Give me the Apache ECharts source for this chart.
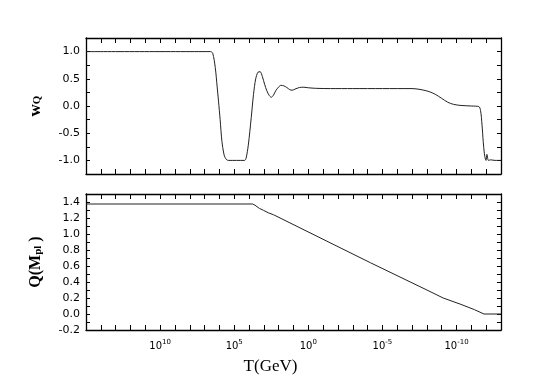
<!DOCTYPE html>
<html><head><meta charset="utf-8">
<script src="https://cdn.jsdelivr.net/npm/echarts@6/dist/echarts.min.js"></script>
<style>html,body{margin:0;padding:0;background:#fff}#c{width:556px;height:385px}</style>
</head><body><div id="c"></div>
<script>
// x values are log10(T / GeV)
const wqLogT = [15, 6.6, 6.45, 6.28, 6.15, 6.06, 5.95, 5.83, 5.7, 5.61, 5.5, 5.4, 4.3, 4.2, 4.05, 3.85, 3.7, 3.55, 3.4, 3.25, 3.1, 2.95, 2.8, 2.65, 2.5, 2.35, 2.2, 2.0, 1.85, 1.65, 1.45, 1.25, 1.1, 0.9, 0.6, 0.3, 0, -0.5, -1.5, -3, -5, -7, -7.4, -7.8, -8.2, -8.6, -9.0, -9.4, -9.8, -10.3, -11.0, -11.5, -11.62, -11.72, -11.8, -11.88, -11.95, -11.99, -12.05, -12.1, -12.15, -12.3, -12.6, -13];
const wqValues = [1.0, 1.0, 0.97, 0.71, 0.35, 0.09, -0.25, -0.65, -0.88, -0.95, -0.99, -1.0, -1.0, -0.96, -0.72, -0.21, 0.21, 0.5, 0.62, 0.63, 0.54, 0.4, 0.28, 0.2, 0.16, 0.2, 0.28, 0.35, 0.38, 0.37, 0.34, 0.3, 0.29, 0.31, 0.34, 0.345, 0.335, 0.325, 0.32, 0.32, 0.32, 0.32, 0.31, 0.29, 0.26, 0.21, 0.14, 0.07, 0.03, 0.01, 0.0, -0.01, -0.08, -0.35, -0.65, -0.88, -0.98, -1.0, -0.89, -0.96, -1.0, -0.99, -1.0, -1.0];
const qLogT = [15, 3.75, 3.6, 3.3, 3.02, 2.7, 2.34, -4.2, -8.0, -9.1, -10.3, -11.2, -11.85, -13];
const qValues = [1.375, 1.375, 1.36, 1.32, 1.295, 1.265, 1.24, 0.64, 0.30, 0.20, 0.12, 0.055, 0.0, 0.0];
const xLabelDecades = [10, 5, 0, -5, -10];

const wqData = wqLogT.map((x, i) => [x, wqValues[i]]);
const qData = qLogT.map((x, i) => [x, qValues[i]]);

const black = '#000';
const lineStyle = { color: black, width: 1 };
function xAxis(grid, pos, showLabels) {
  return {
    type: 'value', gridIndex: grid, position: pos, inverse: true,
    min: -13, max: 15, interval: 1,
    axisLine: { show: true, onZero: false, lineStyle: { color: black, width: 1.3 } },
    axisTick: { show: true, inside: true, length: 5, lineStyle: { color: black, width: 1 } },
    splitLine: { show: false },
    axisLabel: showLabels ? {
      show: true, margin: 9, color: black,
      formatter: v => xLabelDecades.indexOf(Math.round(v)) >= 0 && Math.abs(v - Math.round(v)) < 1e-6 ? '{b|10}{s|' + Math.round(v) + '}' : '',
      rich: {
        b: { fontFamily: 'DejaVu Sans', fontSize: 10, color: black, lineHeight: 12, padding: [3, 0, 0, 0], verticalAlign: 'bottom' },
        s: { fontFamily: 'DejaVu Sans', fontSize: 7, color: black, lineHeight: 8, verticalAlign: 'top' }
      }
    } : { show: false },
    name: showLabels ? 'T(GeV)' : '',
    nameLocation: 'middle', nameGap: 28,
    nameTextStyle: { fontFamily: 'Liberation Serif', fontSize: 17, color: black, padding: [0, 46, 0, 0] }
  };
}
function yAxis(grid, pos, min, max, interval, showLabels, fmt, name, rich, gap) {
  return {
    type: 'value', gridIndex: grid, position: pos, min, max, interval,
    axisLine: { show: true, onZero: false, lineStyle: { color: black, width: 1.3 } },
    axisTick: { show: true, inside: true, length: 4, lineStyle: { color: black, width: 1 } },
    splitLine: { show: false },
    axisLabel: showLabels ? { show: true, margin: 6, color: black, fontFamily: 'DejaVu Sans', fontSize: 11, formatter: fmt } : { show: false },
    name: name || '', nameLocation: 'middle', nameRotate: 90, nameGap: gap || 0,
    nameTextStyle: { rich: rich || {} }
  };
}
const wqFmt = v => Math.abs(v * 2 - Math.round(v * 2)) < 1e-6 ? v.toFixed(1) : '';
const qFmt = v => Math.abs(Math.round(v * 10) % 2) === 0 ? v.toFixed(1) : '';

const chart = echarts.init(document.getElementById('c'), null, { renderer: 'canvas' });
chart.setOption({
  animation: false,
  backgroundColor: '#fff',
  grid: [
    { left: 86, top: 38, width: 415, height: 136, containLabel: false, outerBoundsMode: 'none' },
    { left: 86, top: 194, width: 415, height: 136, containLabel: false, outerBoundsMode: 'none' }
  ],
  xAxis: [xAxis(0, 'bottom', false), xAxis(0, 'top', false), xAxis(1, 'bottom', true), xAxis(1, 'top', false)],
  yAxis: [
    yAxis(0, 'left', -1.25, 1.25, 0.25, true, wqFmt, '{a|w}{s|Q}', {
      a: { fontFamily: 'Liberation Serif', fontWeight: 'bold', fontSize: 17, color: black, lineHeight: 16, padding: [0, 0, 4, 0], verticalAlign: 'top' },
      s: { fontFamily: 'Liberation Serif', fontWeight: 'bold', fontSize: 11, color: black, lineHeight: 10, verticalAlign: 'bottom' }
    }, 40),
    yAxis(0, 'right', -1.25, 1.25, 0.25, false),
    yAxis(1, 'left', -0.2, 1.5, 0.1, true, qFmt, '{a|Q(M}{s|pl}{a| )}', {
      a: { fontFamily: 'Liberation Serif', fontWeight: 'bold', fontSize: 16, color: black, lineHeight: 16, padding: [0, 0, 4, 0], verticalAlign: 'top' },
      s: { fontFamily: 'Liberation Serif', fontWeight: 'bold', fontSize: 11, color: black, lineHeight: 10, verticalAlign: 'bottom' }
    }, 36),
    yAxis(1, 'right', -0.2, 1.5, 0.1, false)
  ],
  series: [
    { type: 'line', xAxisIndex: 0, yAxisIndex: 0, data: wqData, showSymbol: false, smooth: 0.3, lineStyle: { color: '#222', width: 1 } },
    { type: 'line', xAxisIndex: 2, yAxisIndex: 2, data: qData, showSymbol: false, lineStyle: { color: '#222', width: 1 } }
  ]
});
</script>
</body></html>
